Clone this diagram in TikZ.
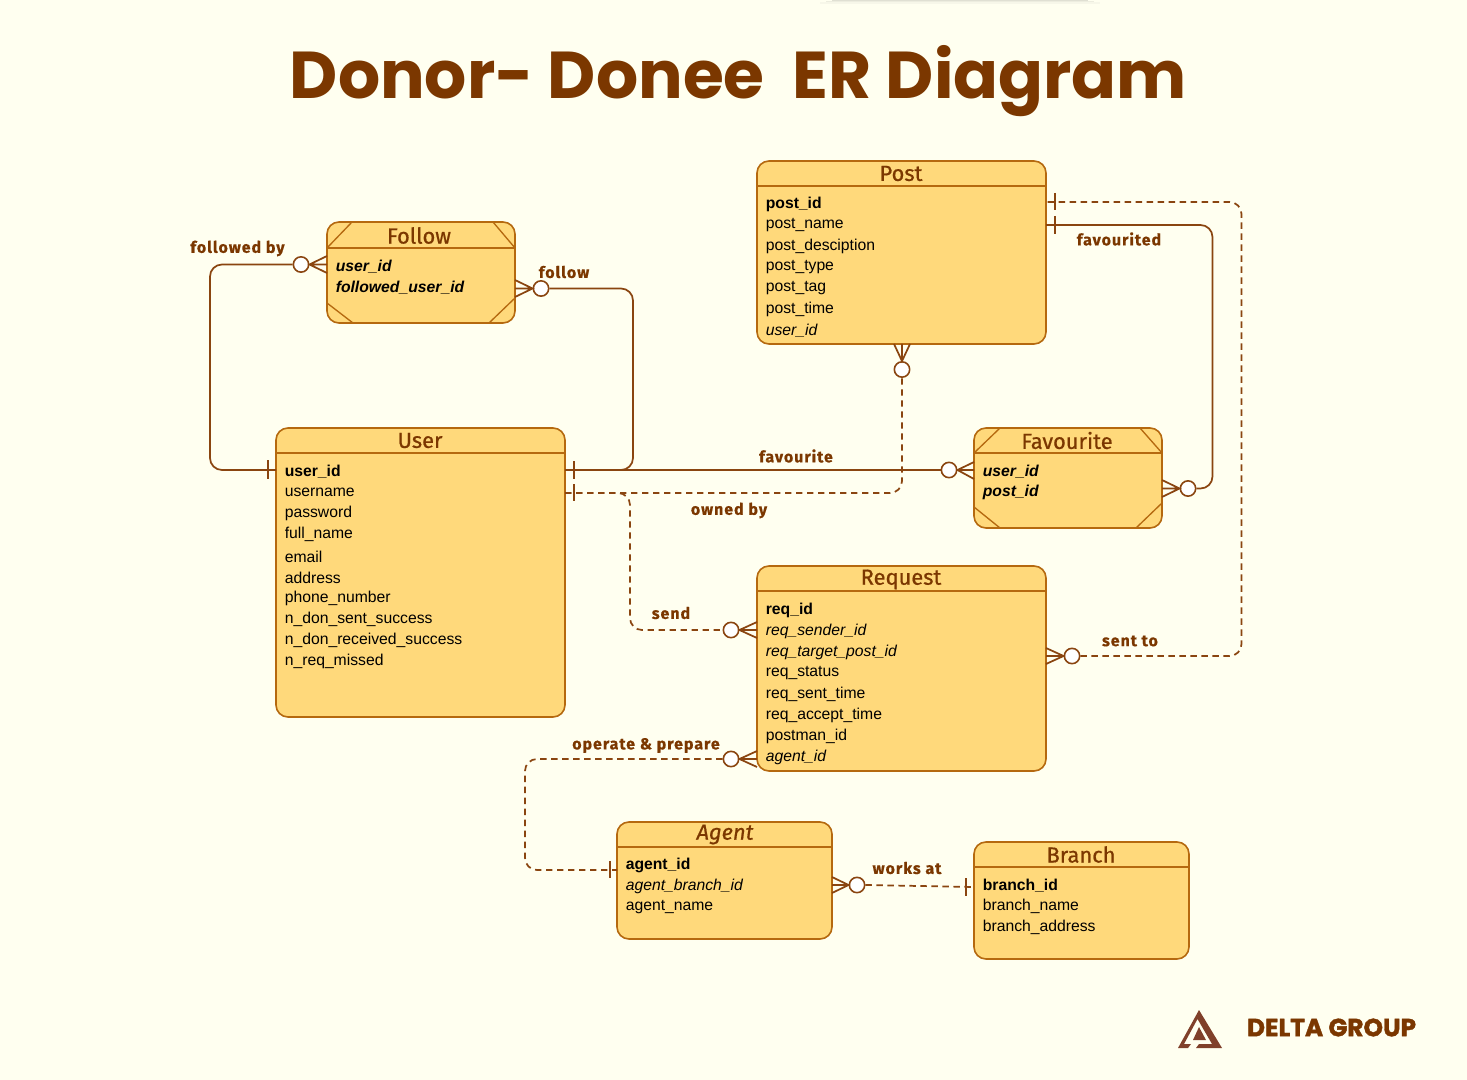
\documentclass[tikz,border=0pt]{standalone}
\usepackage{fontspec}
\setmainfont{Liberation Sans}
\newfontfamily\titlefont{Poppins}
\newfontfamily\logofont[FakeBold=1.6]{Poppins}
\newfontfamily\headfont[FakeBold=0.7]{Fira Sans}
\newfontfamily\lblfont[LetterSpace=6,FakeBold=0.5]{Fira Sans}
\definecolor{bgc}{HTML}{FFFFF0}
\definecolor{boxc}{HTML}{FFD97B}
\definecolor{edgec}{HTML}{B5690F}
\definecolor{linec}{HTML}{8A4510}
\definecolor{darkc}{HTML}{7B3700}
\definecolor{logoc}{HTML}{80402A}
\tikzset{
 x=0.75pt,y=-0.75pt,
 entity/.style={draw=edgec,fill=boxc,line width=1.2pt,rounded corners=9pt,anchor=north west,inner sep=0pt,outer sep=0pt},
 hdr/.style={draw=edgec,line width=1pt},
 head/.style={text=darkc,font=\headfont\fontsize{16.4pt}{20pt}\selectfont,inner sep=0pt},
 fieldt/.style={anchor=west,inner sep=0pt,text=black,font=\fontsize{11.8pt}{14pt}\selectfont},
 keyf/.style={fieldt,font=\fontsize{11.8pt}{14pt}\selectfont\bfseries},
 fkey/.style={fieldt,font=\fontsize{11.8pt}{14pt}\selectfont\itshape},
 pkf/.style={fieldt,font=\fontsize{11.8pt}{14pt}\selectfont\bfseries\itshape},
 rel/.style={draw=linec,line width=1.3pt,rounded corners=9pt},
 reld/.style={rel,dash pattern=on 4.75pt off 3.5pt},
 mark line/.style={draw=linec,line width=1.3pt},
 opt/.style={circle,draw=linec,fill=white,line width=1.2pt,minimum size=11.5pt,inner sep=0pt},
 lbl/.style={text=darkc,font=\lblfont\bfseries\fontsize{12pt}{14pt}\selectfont,inner sep=0pt},
 corner/.style={draw=edgec,line width=1pt},
}
\newcommand{\entbox}[6]{% name, x1,y1,x2,y2, title
 \node[entity,minimum width=#4*0.75pt-#2*0.75pt,minimum height=#5*0.75pt-#3*0.75pt] (#1) at (#2,#3) {};
}
\begin{document}
\begin{tikzpicture}
\useasboundingbox (0,0) rectangle (1467,1080);
\fill[bgc] (0,0) rectangle (1467,1080);
% faint shadow at the top edge
\fill[black!12!bgc] (832,0) rectangle (1088,1);
\fill[black!7!bgc] (826,1) rectangle (1094,2.5);
\fill[black!3!bgc] (820,2.5) rectangle (1100,4);

\node[text=darkc,font=\titlefont\bfseries\fontsize{49.7pt}{56pt}\selectfont,inner sep=0pt] (title) at (738.5,81) {Donor- Donee\ \ ER Diagram};

% entities
\entbox{follow}{327}{222}{515}{323}{}
\entbox{post}{757}{161}{1046}{344}{}
\entbox{user}{276}{428}{565}{717}{}
\entbox{fav}{974}{428}{1162}{528}{}
\entbox{req}{757}{566}{1046}{771}{}
\entbox{agent}{617}{822}{832}{939}{}
\entbox{branch}{974}{842}{1189}{959}{}

% header rules
\draw[hdr] (follow.west |- 0,248) -- (follow.east |- 0,248);
\draw[hdr] (post.west |- 0,186) -- (post.east |- 0,186);
\draw[hdr] (user.west |- 0,453) -- (user.east |- 0,453);
\draw[hdr] (fav.west |- 0,453) -- (fav.east |- 0,453);
\draw[hdr] (req.west |- 0,591) -- (req.east |- 0,591);
\draw[hdr] (agent.west |- 0,847) -- (agent.east |- 0,847);
\draw[hdr] (branch.west |- 0,867) -- (branch.east |- 0,867);

% corner cuts
\draw[corner] (327,248) -- (352,222) (493,222) -- (515,248) (327,303) -- (353,323) (489,323) -- (515,298);
\draw[corner] (974,453) -- (1000,428) (1140,428) -- (1162,453) (974,507) -- (1000,528) (1136,528) -- (1162,503);

% headings
\node[head] (tFollow) at (419,235.5) {Follow};
\node[head] (tPost) at (901,173.5) {Post};
\node[head] (tUser) at (420,440.5) {User};
\node[head] (tFav) at (1067,440.5) {Favourite};
\node[head] (tReq) at (901,579.5) {Request};
\node[head,font=\headfont\itshape\fontsize{16.4pt}{20pt}\selectfont] (tAgent) at (725,834.5) {Agent};
\node[head] (tBranch) at (1081,854.5) {Branch};

% fields
\node[pkf] (fo1) at (335.5,266.5) {user\_id};
\node[pkf] (fo2) at (335.5,287.5) {followed\_user\_id};

\node[keyf] (po1) at (765.5,204.5) {post\_id};
\node[fieldt] (po2) at (765.5,225.5) {post\_name};
\node[fieldt] (po3) at (765.5,246.5) {post\_desciption};
\node[fieldt] (po4) at (765.5,267.5) {post\_type};
\node[fieldt] (po5) at (765.5,288.5) {post\_tag};
\node[fieldt] (po6) at (765.5,309.5) {post\_time};
\node[fkey] (po7) at (765.5,330.5) {user\_id};

\node[keyf] (us1) at (284.5,471.5) {user\_id};
\node[fieldt] (us2) at (284.5,492.5) {username};
\node[fieldt] (us3) at (284.5,513.5) {password};
\node[fieldt] (us4) at (284.5,534.5) {full\_name};
\node[fieldt] (us5) at (284.5,556.5) {email};
\node[fieldt] (us6) at (284.5,577.5) {address};
\node[fieldt] (us7) at (284.5,598.5) {phone\_number};
\node[fieldt] (us8) at (284.5,619.5) {n\_don\_sent\_success};
\node[fieldt] (us9) at (284.5,640.5) {n\_don\_received\_success};
\node[fieldt] (us10) at (284.5,661.5) {n\_req\_missed};

\node[pkf] (fa1) at (982.5,471.5) {user\_id};
\node[pkf] (fa2) at (982.5,492.5) {post\_id};

\node[keyf] (re1) at (765.5,610.5) {req\_id};
\node[fkey] (re2) at (765.5,631.5) {req\_sender\_id};
\node[fkey] (re3) at (765.5,652.5) {req\_target\_post\_id};
\node[fieldt] (re4) at (765.5,673.5) {req\_status};
\node[fieldt] (re5) at (765.5,694.5) {req\_sent\_time};
\node[fieldt] (re6) at (765.5,715.5) {req\_accept\_time};
\node[fieldt] (re7) at (765.5,736.5) {postman\_id};
\node[fkey] (re8) at (765.5,757.5) {agent\_id};

\node[keyf] (ag1) at (625.5,865.5) {agent\_id};
\node[fkey] (ag2) at (625.5,886.5) {agent\_branch\_id};
\node[fieldt] (ag3) at (625.5,907.5) {agent\_name};

\node[keyf] (br1) at (982.5,885.5) {branch\_id};
\node[fieldt] (br2) at (982.5,906.5) {branch\_name};
\node[fieldt] (br3) at (982.5,927.5) {branch\_address};

% optional circles
\node[opt] (cFollowedBy) at (301,264.5) {};
\node[opt] (cFollow) at (541,288.5) {};
\node[opt] (cOwned) at (902,369.5) {};
\node[opt] (cFav) at (949,470) {};
\node[opt] (cFaved) at (1188,488.5) {};
\node[opt] (cSend) at (731,630) {};
\node[opt] (cSent) at (1072,656) {};
\node[opt] (cOperate) at (731,759) {};
\node[opt] (cWorks) at (857,885) {};

% anchor coordinates on the entity edges
\coordinate (uL) at (user.west |- 0,470);
\coordinate (uR) at (user.east |- 0,470);
\coordinate (uR2) at (user.east |- 0,493);
\coordinate (pR1) at (post.east |- 0,202);
\coordinate (pR2) at (post.east |- 0,225);
\coordinate (aL) at (agent.west |- 0,870);
\coordinate (bL) at (branch.west |- 0,887);

% solid relations
\draw[rel] (cFollowedBy.west) -- (210,264.5) -- (210,470) -- (uL);
\draw[rel] (cFollow.east) -- (633,288.5) -- (633,470) -- (uR);
\draw[rel,rounded corners=0pt] (uR) -- (cFav.west);
\draw[rel] (pR2) -- (1212.5,225) -- (1212.5,488.5) -- (cFaved.east);

% dashed relations
\draw[reld] (uR2) -- (902,493) -- (cOwned.south);
\draw[reld] (uR2) -- (630,493) -- (630,630) -- (cSend.west);
\draw[reld] (cSent.east) -- (1241.5,656) -- (1241.5,202) -- (pR1);
\draw[reld] (cOperate.west) -- (525,759) -- (525,870) -- (aL);
\draw[reld,rounded corners=0pt] (cWorks.east) -- (bL);

% one-marks
\draw[mark line] (268,460) -- (268,479);
\draw[mark line] (574,461) -- (574,479);
\draw[mark line] (574,484) -- (574,501);
\draw[mark line] (1055,193) -- (1055,210);
\draw[mark line] (1055,216) -- (1055,234);
\draw[mark line] (610,861) -- (610,878);
\draw[mark line] (966,878) -- (966,896);

% crow's feet
\draw[mark line] (327,256) -- (cFollowedBy.east) -- (327,273) (327,264.5) -- (cFollowedBy.east);
\draw[mark line] (515,280) -- (cFollow.west) -- (515,297) (515,288.5) -- (cFollow.west);
\draw[mark line] (894,344) -- (cOwned.north) -- (910,344) (902,344) -- (cOwned.north);
\draw[mark line] (974,462) -- (cFav.east) -- (974,479) (974,470) -- (cFav.east);
\draw[mark line] (1162,480) -- (cFaved.west) -- (1162,497) (1162,488.5) -- (cFaved.west);
\draw[mark line] (757,622) -- (cSend.east) -- (757,638) (757,630) -- (cSend.east);
\draw[mark line] (1046,648) -- (cSent.west) -- (1046,664) (1046,656) -- (cSent.west);
\draw[mark line] (757,751) -- (cOperate.east) -- (757,767) (757,759) -- (cOperate.east);
\draw[mark line] (832,877) -- (cWorks.west) -- (832,893) (832,885) -- (cWorks.west);

% labels
\node[lbl] (lFollowedBy) at (237.5,248.5) {followed by};
\node[lbl] (lFollow) at (564,272) {follow};
\node[lbl] (lFaved) at (1119,239) {favourited};
\node[lbl] (lFav) at (796,456) {favourite};
\node[lbl] (lOwned) at (729,510.5) {owned by};
\node[lbl] (lSend) at (671,613) {send};
\node[lbl] (lSent) at (1130,641) {sent to};
\node[lbl] (lOperate) at (646,745.5) {operate \& prepare};
\node[lbl] (lWorks) at (907,868) {works at};

% logo
\fill[logoc] (1199,1010) -- (1222,1048) -- (1196,1048) -- (1199,1044) -- (1212,1044) -- (1197.5,1019) -- (1184,1044) -- (1191,1044) -- (1188,1048) -- (1178,1048) -- cycle;
\fill[logoc] (1199,1027) -- (1206,1040) -- (1193,1040) -- cycle;
\node[text=darkc,font=\logofont\bfseries\fontsize{18.6pt}{22pt}\selectfont,inner sep=0pt] (logo) at (1331.5,1027.5) {DELTA GROUP};
\end{tikzpicture}
\end{document}
